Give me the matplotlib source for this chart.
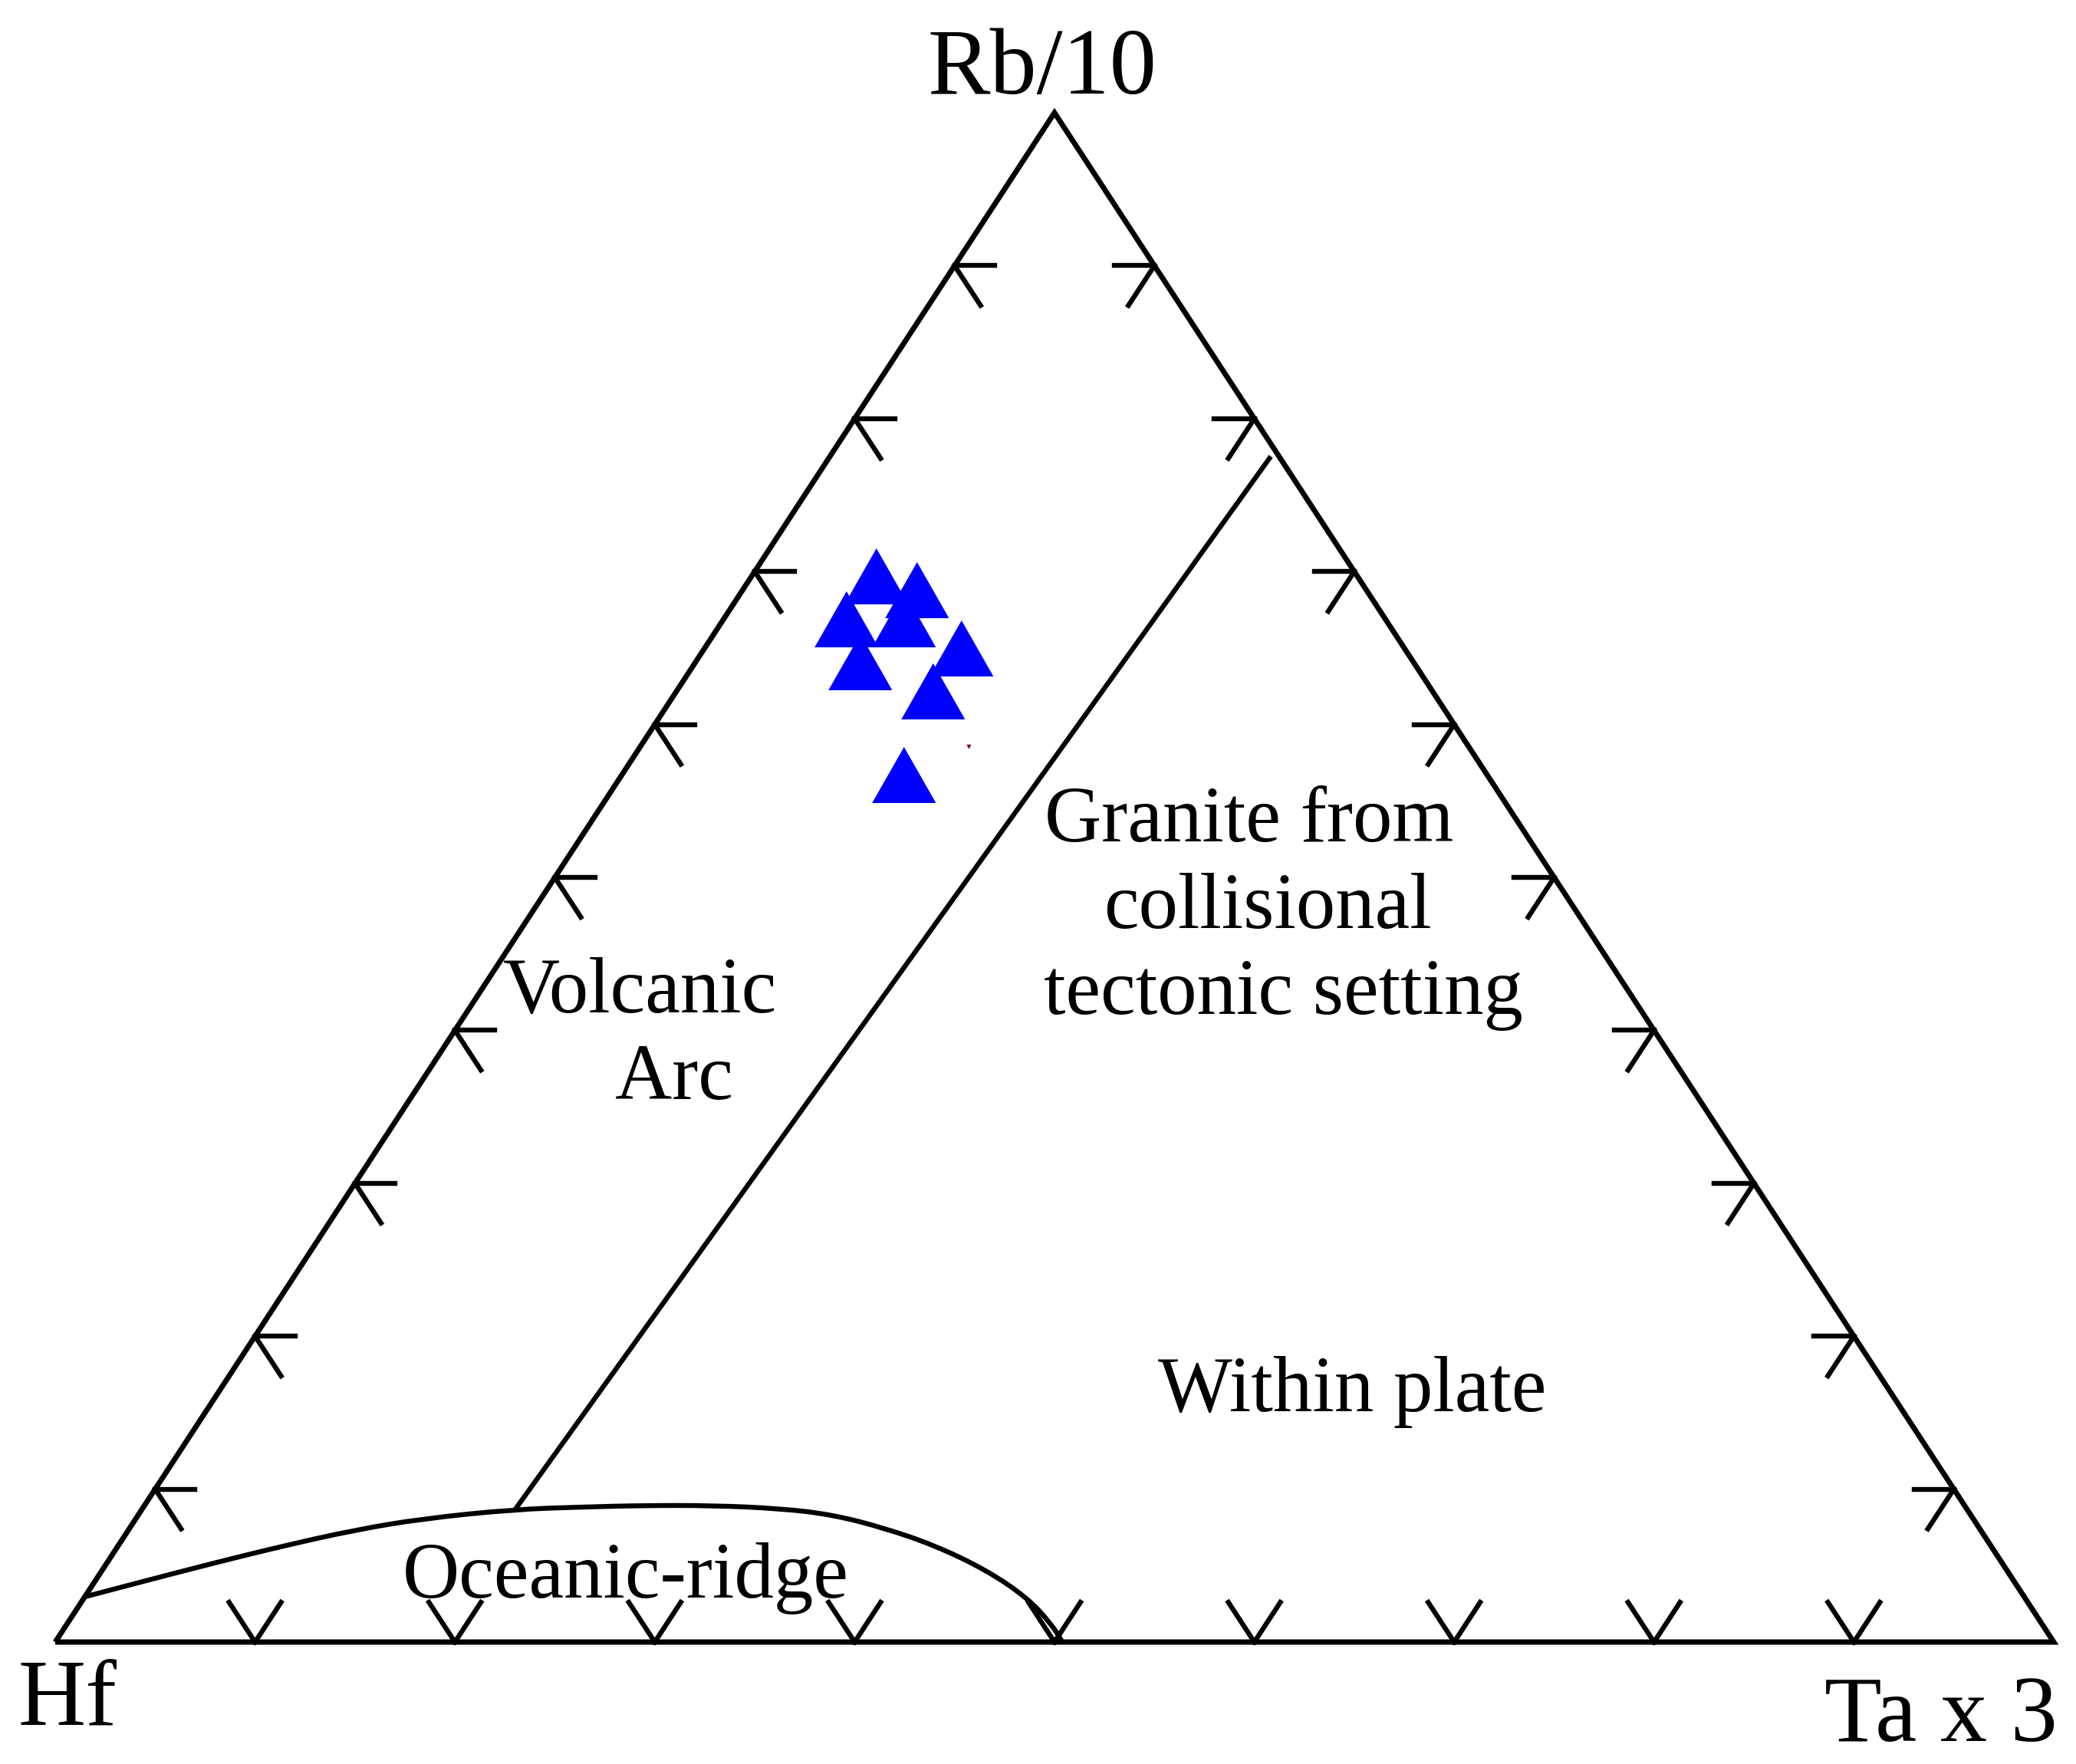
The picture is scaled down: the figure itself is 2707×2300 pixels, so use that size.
import numpy as np
import matplotlib
matplotlib.use("Agg")
import matplotlib.pyplot as plt
from matplotlib.path import Path
from matplotlib.patches import PathPatch

plt.rcParams['font.family'] = ['Liberation Serif', 'DejaVu Serif']

# samples (fractions Rb/10 and Ta x 3, Hf is the rest)
sample_rb = [0.697, 0.669, 0.688, 0.669, 0.641, 0.650, 0.622, 0.567]
sample_ta = [0.062, 0.061, 0.087, 0.090, 0.082, 0.128, 0.128, 0.141]

# tiny stray mark next to the samples
stray_rb = [0.586]
stray_ta = [0.164]

# boundary: oceanic ridge curve
ridge_rb = [0.0296, 0.0406, 0.0522, 0.0632, 0.0732, 0.0807, 0.0868, 0.0883, 0.0893,
            0.0893, 0.0873, 0.0833, 0.0747, 0.0632, 0.0471, 0.0291, 0.0120, 0.0010, 0.0]
ridge_ta = [0.0, 0.0265, 0.0549, 0.0837, 0.1131, 0.1435, 0.1868, 0.2199, 0.2497,
            0.2842, 0.3194, 0.3471, 0.3771, 0.4085, 0.4423, 0.4717, 0.4923, 0.5030, 0.504]

# boundary: volcanic arc / collisional line
arc_rb = [0.0868, 0.7753]
arc_ta = [0.1868, 0.2206]

ticks = [0.1, 0.2, 0.3, 0.4, 0.5, 0.6, 0.7, 0.8, 0.9]


def tern(rb, ta):
    rb = np.asarray(rb, dtype=float)
    ta = np.asarray(ta, dtype=float)
    return ta + rb / 2.0, rb


fig = plt.figure(figsize=(27.07, 23.0), dpi=100)
ax = fig.add_axes([0, 0, 1, 1])
ax.set_xlim(-0.02763, 1.01113)
ax.set_ylim(-0.07974, 1.07372)
ax.axis('off')

edge_lw = 5.0
tick_lw = 4.6
k = 'black'

# triangle frame
x, y = tern([0, 1, 0, 0], [0, 0, 1, 0])
ax.plot(x, y, color=k, lw=edge_lw, solid_joinstyle='miter', solid_capstyle='butt')

# ticks
h = 0.020   # short arm along constant Rb
d = 0.026   # slanted arm
for t in ticks:
    # left side (Ta = 0)
    x, y = tern([t, t], [0, h]); ax.plot(x, y, color=k, lw=tick_lw)
    x, y = tern([t, t - d], [0, d]); ax.plot(x, y, color=k, lw=tick_lw)
    # right side (Hf = 0)
    x, y = tern([t, t], [1 - t, 1 - t - h]); ax.plot(x, y, color=k, lw=tick_lw)
    x, y = tern([t, t - d], [1 - t, 1 - t]); ax.plot(x, y, color=k, lw=tick_lw)
    # base (Rb = 0)
    x, y = tern([0, d], [t, t - d]); ax.plot(x, y, color=k, lw=tick_lw)
    x, y = tern([0, d], [t, t]); ax.plot(x, y, color=k, lw=tick_lw)

# oceanic ridge curve: read points used as quadratic bezier controls
x, y = tern(ridge_rb, ridge_ta)
pts = np.column_stack([x, y])
verts = [pts[0]]
codes = [Path.MOVETO]
mids = (pts[1:-1] + pts[2:]) / 2.0
verts.append((pts[0] + pts[1]) / 2.0); codes.append(Path.LINETO)
for p, m in zip(pts[1:-1], mids):
    verts += [p, m]
    codes += [Path.CURVE3, Path.CURVE3]
verts.append(pts[-1]); codes.append(Path.LINETO)
ax.add_patch(PathPatch(Path(verts, codes), fill=False, ec=k, lw=tick_lw,
                       capstyle='round', joinstyle='round'))

x, y = tern(arc_rb, arc_ta)
ax.plot(x, y, color=k, lw=tick_lw, solid_capstyle='butt')

# samples
tri = [(-1, -0.878), (1, -0.878), (0, 0.878)]
x, y = tern(sample_rb, sample_ta)
ax.plot(x, y, ls='none', marker=tri, ms=59, color='#0000ff', mec='#0000ff', mew=0.8)
x, y = tern(stray_rb, stray_ta)
ax.plot(x, y, ls='none', marker='v', ms=3, color='#7a1030', mec='#7a1030')

# apex labels
big = 88
ax.text(0.4939, 1.0125, 'Rb/10', fontsize=big, ha='center', va='baseline')
ax.text(0.0061, -0.0537, 'Hf', fontsize=big, ha='center', va='baseline')
ax.text(0.9436, -0.0647, 'Ta x 3', fontsize=big, ha='center', va='baseline')

# field labels
fs = 74
ax.text(0.2928, 0.4117, 'Volcanic', fontsize=fs, ha='center', va='baseline')
ax.text(0.3097, 0.3551, 'Arc', fontsize=fs, ha='center', va='baseline')
ax.text(0.5975, 0.5236, 'Granite from', fontsize=fs, ha='center', va='baseline')
ax.text(0.6067, 0.4669, 'collisional', fontsize=fs, ha='center', va='baseline')
ax.text(0.6144, 0.4107, 'tectonic setting', fontsize=fs, ha='center', va='baseline')
ax.text(0.6489, 0.1510, 'Within plate', fontsize=fs, ha='center', va='baseline')
ax.text(0.2855, 0.0291, 'Oceanic-ridge', fontsize=fs, ha='center', va='baseline')

fig.savefig('out.png', dpi=100, facecolor='white')
